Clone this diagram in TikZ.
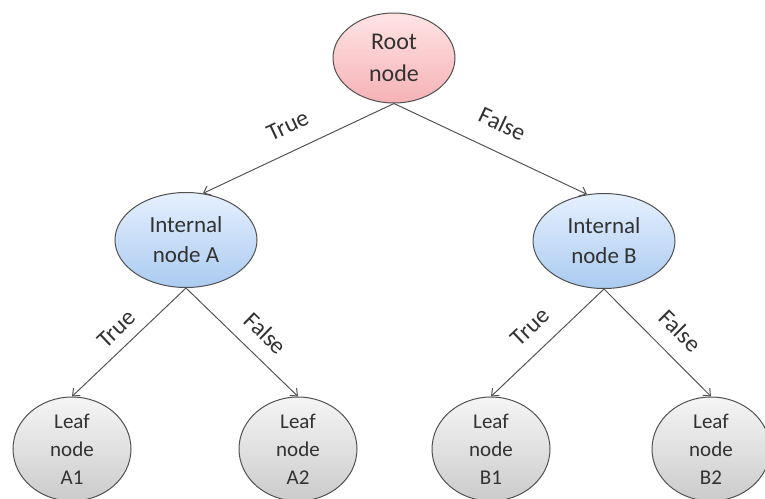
\documentclass[tikz,border=0pt]{standalone}
\usepackage{fontspec}
\setmainfont{Carlito}
\usetikzlibrary{shapes.geometric,arrows.meta}
\definecolor{bordergray}{RGB}{80,80,80}
\definecolor{edgegray}{RGB}{85,85,85}
\definecolor{textgray}{RGB}{50,50,50}
\definecolor{pinktop}{RGB}{255,228,228}
\definecolor{pinkbot}{RGB}{245,178,182}
\definecolor{bluetop}{RGB}{230,240,255}
\definecolor{bluebot}{RGB}{170,203,240}
\definecolor{graytop}{RGB}{245,245,245}
\definecolor{graybot}{RGB}{203,203,203}
\begin{document}
\begin{tikzpicture}[x=1pt,y=-1pt,
  tnode/.style={ellipse, draw=bordergray, line width=1pt, inner sep=0pt, align=center, text=textgray},
  rootnode/.style={tnode, minimum width=122pt, minimum height=90pt, top color=pinktop, bottom color=pinkbot, font=\fontsize{24}{32}\selectfont},
  internode/.style={tnode, minimum width=142pt, minimum height=95pt, top color=bluetop, bottom color=bluebot, font=\fontsize{23}{30}\selectfont},
  leafnode/.style={tnode, minimum width=118pt, minimum height=104pt, top color=graytop, bottom color=graybot, font=\fontsize{21}{28}\selectfont},
  arr/.style={draw=edgegray, line width=1pt, -{Straight Barb[length=6pt,width=10pt]}},
  lbl/.style={font=\fontsize{24}{28}\selectfont, text=textgray, inner sep=0pt, sloped}
]
\useasboundingbox (0,0) rectangle (765,498);
\node[rootnode] (r) at (394,58) {Root\\node};
\node[internode] (a) at (186,240) {Internal\\node A};
\node[internode] (b) at (604,241) {Internal\\node B};
\node[leafnode] (a1) at (72,449) {Leaf\\node\\A1};
\node[leafnode] (a2) at (298,449) {Leaf\\node\\A2};
\node[leafnode] (b1) at (491,449) {Leaf\\node\\B1};
\node[leafnode] (b2) at (711,449) {Leaf\\node\\B2};
\draw[arr] (r.south) -- (a.70) node[lbl, pos=0.5, above=17pt] {True};
\draw[arr] (r.south) -- (b.110) node[lbl, pos=0.5, above=19pt] {False};
\draw[arr] (a.south) -- (a1.north) node[lbl, pos=0.5, above=10pt] {True};
\draw[arr] (a.south) -- (a2.north) node[lbl, pos=0.57, above=14pt] {False};
\draw[arr] (b.south) -- (b1.north) node[lbl, pos=0.51, above=15pt] {True};
\draw[arr] (b.south) -- (b2.north) node[lbl, pos=0.55, above=16pt] {False};
\end{tikzpicture}
\end{document}
